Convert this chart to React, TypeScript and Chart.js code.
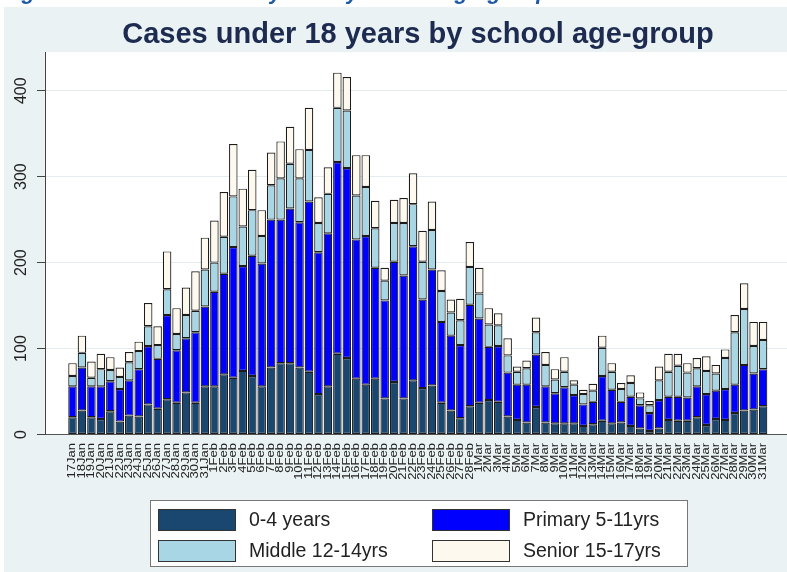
import React, { useEffect, useRef } from "react";
import { Chart, registerables } from "chart.js";

Chart.register(...registerables);

const W = 787;
const H = 572;

const caption = "Figure 4: Cases under 18 years by school age-group";
const title = "Cases under 18 years by school age-group";

const dates = [
  "17Jan", "18Jan", "19Jan", "20Jan", "21Jan", "22Jan", "23Jan", "24Jan", "25Jan", "26Jan",
  "27Jan", "28Jan", "29Jan", "30Jan", "31Jan",
  "1Feb", "2Feb", "3Feb", "4Feb", "5Feb", "6Feb", "7Feb", "8Feb", "9Feb", "10Feb",
  "11Feb", "12Feb", "13Feb", "14Feb", "15Feb", "16Feb", "17Feb", "18Feb", "19Feb", "20Feb",
  "21Feb", "22Feb", "23Feb", "24Feb", "25Feb", "26Feb", "27Feb", "28Feb",
  "1Mar", "2Mar", "3Mar", "4Mar", "5Mar", "6Mar", "7Mar", "8Mar", "9Mar", "10Mar",
  "11Mar", "12Mar", "13Mar", "14Mar", "15Mar", "16Mar", "17Mar", "18Mar", "19Mar", "20Mar",
  "21Mar", "22Mar", "23Mar", "24Mar", "25Mar", "26Mar", "27Mar", "28Mar", "29Mar", "30Mar",
  "31Mar",
];

const age0to4 = [
  20, 28, 20, 18, 27, 15, 22, 21, 35, 30, 41, 37, 49, 37, 56,
  56, 70, 66, 74, 68, 56, 78, 83, 83, 78, 73, 47, 56, 94, 89, 65, 58, 65, 42, 61, 42, 63, 54, 57, 37, 28, 19, 33,
  37, 40, 38, 21, 17, 14, 32, 14, 13, 13, 13, 10, 12, 16, 13, 14, 10, 7, 4, 7, 17, 16, 16, 20, 11, 18, 17, 25, 28, 29, 33,
];

const primary = [
  36, 50, 36, 38, 35, 38, 41, 55, 68, 58, 98, 61, 63, 82, 93,
  110, 117, 152, 122, 140, 143, 172, 167, 180, 169, 198, 165, 178, 223, 221, 162, 173, 129, 114, 140, 143, 156, 103, 135, 94, 87, 85, 118,
  98, 62, 65, 51, 41, 44, 61, 42, 35, 42, 33, 25, 26, 52, 39, 24, 34, 27, 21, 33, 27, 28, 27, 36, 36, 33, 36, 33, 53, 42, 43,
];

const middle = [
  12, 17, 10, 20, 13, 14, 21, 21, 23, 16, 30, 19, 27, 25, 43,
  34, 43, 59, 46, 53, 32, 40, 48, 52, 51, 60, 34, 46, 63, 67, 51, 57, 46, 23, 45, 61, 49, 44, 46, 36, 27, 29, 44,
  29, 26, 24, 20, 15, 19, 26, 25, 16, 18, 12, 12, 13, 33, 21, 15, 16, 8, 9, 23, 29, 36, 29, 21, 27, 20, 36, 61, 65, 32, 34,
];

const senior = [
  15, 20, 19, 18, 15, 11, 12, 11, 27, 22, 44, 30, 32, 46, 37,
  49, 52, 61, 44, 47, 30, 38, 43, 43, 34, 49, 30, 31, 41, 39, 47, 37, 32, 15, 27, 29, 36, 36, 33, 24, 15, 25, 29,
  30, 19, 14, 20, 6, 9, 17, 15, 12, 17, 5, 5, 8, 14, 10, 7, 9, 7, 5, 16, 21, 14, 11, 12, 17, 10, 10, 20, 30, 28, 21,
];

const seriesLabels = ["0-4 years", "Primary 5-11yrs", "Middle 12-14yrs", "Senior 15-17yrs"];
const seriesColors = ["#1a476f", "#0000ff", "#a9d6e4", "#fef9ee"];
const yTickValues = [0, 100, 200, 300, 400];

const FONT = '"Liberation Sans", Arial, Helvetica, sans-serif';
const OUTER_BG = "#eaf2f3";

const customPlugin = {
  id: "stataLook",
  beforeDraw(chart: any) {
    const { ctx, chartArea: a } = chart;
    ctx.save();
    ctx.fillStyle = "#ffffff";
    ctx.fillRect(0, 0, W, H);
    // partially hidden caption above the figure
    ctx.font = `italic bold 22px ${FONT}`;
    ctx.fillStyle = "#1f5aa6";
    ctx.textAlign = "left";
    ctx.textBaseline = "alphabetic";
    ctx.fillText(caption, 2, -1);
    // graph region
    ctx.fillStyle = OUTER_BG;
    ctx.fillRect(4, 7, W - 4, H - 7);
    // plot region
    ctx.fillStyle = "#ffffff";
    ctx.fillRect(a.left, a.top, a.right - a.left, a.bottom - a.top);
    // title
    ctx.font = `bold 29px ${FONT}`;
    ctx.fillStyle = "#1c2b4f";
    ctx.textAlign = "center";
    ctx.fillText(title, 418, 43);
    ctx.restore();
  },
  afterDraw(chart: any) {
    const { ctx } = chart;
    const xs = chart.scales.x;
    const ys = chart.scales.y;
    ctx.save();
    // x labels (rotated, stretched along text)
    ctx.fillStyle = "#222222";
    ctx.font = `10px ${FONT}`;
    ctx.textAlign = "right";
    ctx.textBaseline = "middle";
    const labels = chart.data.labels as string[];
    labels.forEach((lab: string, i: number) => {
      const x = xs.getPixelForValue(i);
      ctx.save();
      ctx.translate(x, 443);
      ctx.rotate(-Math.PI / 2);
      ctx.scale(1.3, 1);
      ctx.fillText(lab, 0, 0);
      ctx.restore();
    });
    // y labels (rotated)
    ctx.font = `16px ${FONT}`;
    ctx.textAlign = "center";
    ys.ticks.forEach((t: any) => {
      const y = ys.getPixelForValue(t.value);
      ctx.save();
      ctx.translate(22, y);
      ctx.rotate(-Math.PI / 2);
      ctx.fillText(String(t.label), 0, 0);
      ctx.restore();
    });
    // legend box
    const bx = 150, by = 500, bw = 538, bh = 67;
    ctx.fillStyle = "#ffffff";
    ctx.fillRect(bx, by, bw, bh);
    ctx.strokeStyle = "#777777";
    ctx.lineWidth = 1;
    ctx.strokeRect(bx + 0.5, by + 0.5, bw - 1, bh - 1);
    const cols = [158, 432];
    const rows = [509, 540];
    const sw = 78, sh = 22;
    ctx.font = `19.5px ${FONT}`;
    ctx.textAlign = "left";
    ctx.textBaseline = "middle";
    chart.data.datasets.forEach((ds: any, k: number) => {
      const cx = cols[k % 2];
      const cy = rows[Math.floor(k / 2)];
      ctx.fillStyle = ds.backgroundColor;
      ctx.fillRect(cx, cy, sw, sh);
      ctx.strokeStyle = "#333333";
      ctx.strokeRect(cx + 0.5, cy + 0.5, sw - 1, sh - 1);
      ctx.fillStyle = "#222222";
      ctx.fillText(ds.label, cx + 91, cy + sh / 2 + 1);
    });
    ctx.restore();
  },
};

export default function App() {
  const ref = useRef<HTMLCanvasElement | null>(null);
  useEffect(() => {
    if (!ref.current) return;
    const series = [age0to4, primary, middle, senior];
    const chart = new Chart(ref.current, {
      type: "bar",
      data: {
        labels: dates,
        datasets: series.map((vals, k) => ({
          label: seriesLabels[k],
          data: vals.map((v, i) => ({ x: i, y: v })),
          backgroundColor: seriesColors[k],
          borderColor: "#1c1c1c",
          borderWidth: 1.2,
          borderSkipped: false,
          barPercentage: 0.9,
          categoryPercentage: 1,
        })),
      },
      options: {
        responsive: false,
        animation: false,
        devicePixelRatio: 1,
        layout: { padding: { left: 37, right: 0, top: 52, bottom: 137.5 } },
        plugins: {
          legend: { display: false },
          tooltip: { enabled: false },
          title: { display: false },
        },
        scales: {
          x: {
            type: "linear",
            stacked: true,
            offset: false,
            min: -2.907,
            max: 75.53,
            grid: { display: false, drawTicks: false, offset: false },
            ticks: { display: false },
            border: { display: true, color: "#555555", width: 1 },
          },
          y: {
            stacked: true,
            min: 0,
            max: 445,
            ticks: { display: false, stepSize: 100, includeBounds: false },
            grid: {
              color: (c: any) => (c.tick && c.tick.value === 0 ? "rgba(0,0,0,0)" : "#e3ecee"),
              tickColor: "#444444",
              tickLength: 8,
              drawTicks: true,
            },
            border: { display: true, color: "#444444", width: 1 },
          },
        },
      },
      plugins: [customPlugin],
    });
    return () => chart.destroy();
  }, []);
  return (
    <div style={{ position: "absolute", left: 0, top: 0, width: W, height: H }}>
      <canvas ref={ref} width={W} height={H} style={{ width: W, height: H, display: "block" }} />
    </div>
  );
}
